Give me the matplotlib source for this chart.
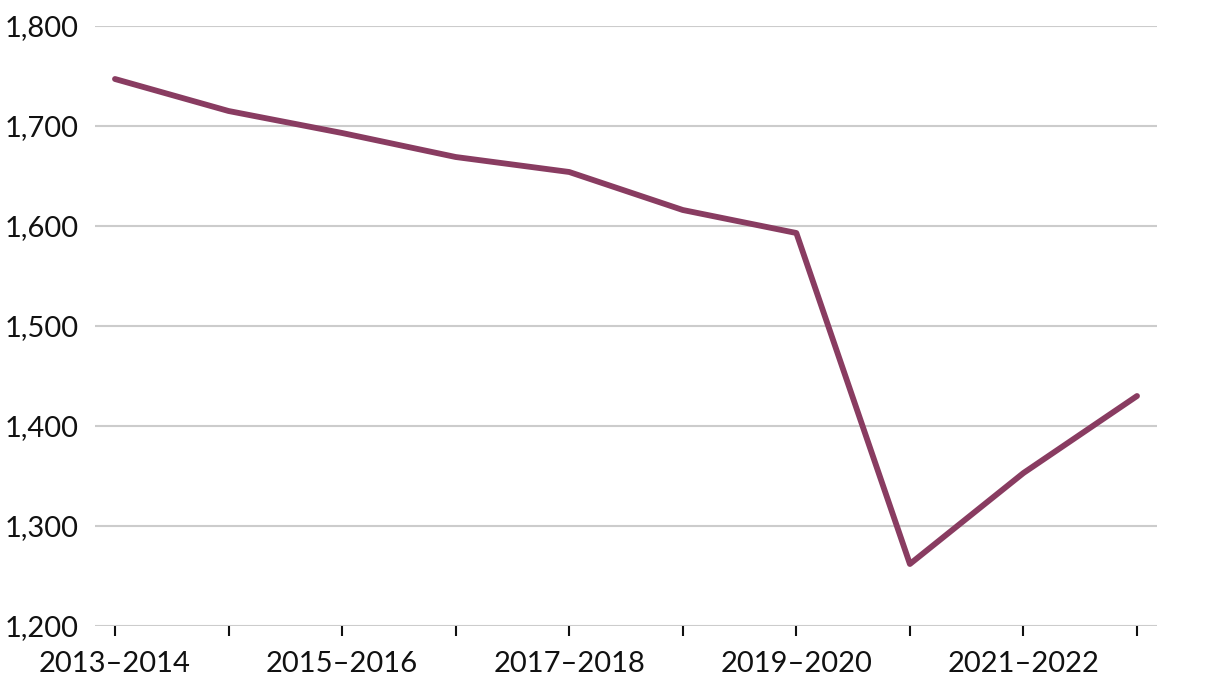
import matplotlib
matplotlib.use("Agg")
import matplotlib.pyplot as plt
from matplotlib.ticker import FuncFormatter

years = ["2013–2014", "2014–2015", "2015–2016", "2016–2017", "2017–2018",
         "2018–2019", "2019–2020", "2020–2021", "2021–2022", "2022–2023"]
values = [1747, 1715, 1693, 1669, 1654, 1616, 1593, 1262, 1353, 1430]
yticks = [1200, 1300, 1400, 1500, 1600, 1700, 1800]

plt.rcParams['font.family'] = ['Lato', 'DejaVu Sans']

fig = plt.figure(figsize=(12.2, 6.92), dpi=100)
ax = fig.add_axes([95/1220, 1 - 626/692, (1157-95)/1220, 600/692])

x = list(range(len(years)))
ax.plot(x, values, color="#893c61", linewidth=4.2, solid_joinstyle="round", solid_capstyle="round", zorder=3)

ax.set_ylim(1200, 1800)
ax.set_xlim(-0.176, len(years) - 1 + 0.176)
ax.set_yticks(yticks)
ax.yaxis.set_major_formatter(FuncFormatter(lambda v, p: f"{int(v):,}"))
ax.set_xticks(x)
ax.set_xticklabels([y if i % 2 == 0 else "" for i, y in enumerate(years)])

ax.grid(axis="y", color="#cccccc", linewidth=1.5, zorder=0)
for s in ax.spines.values():
    s.set_visible(False)
ax.tick_params(axis="y", length=0, pad=12, labelsize=21, labelcolor="#111111")
ax.tick_params(axis="x", length=7, width=1.5, color="#111111", pad=11, labelsize=21, labelcolor="#111111")

fig.savefig("out.png", dpi=100)
